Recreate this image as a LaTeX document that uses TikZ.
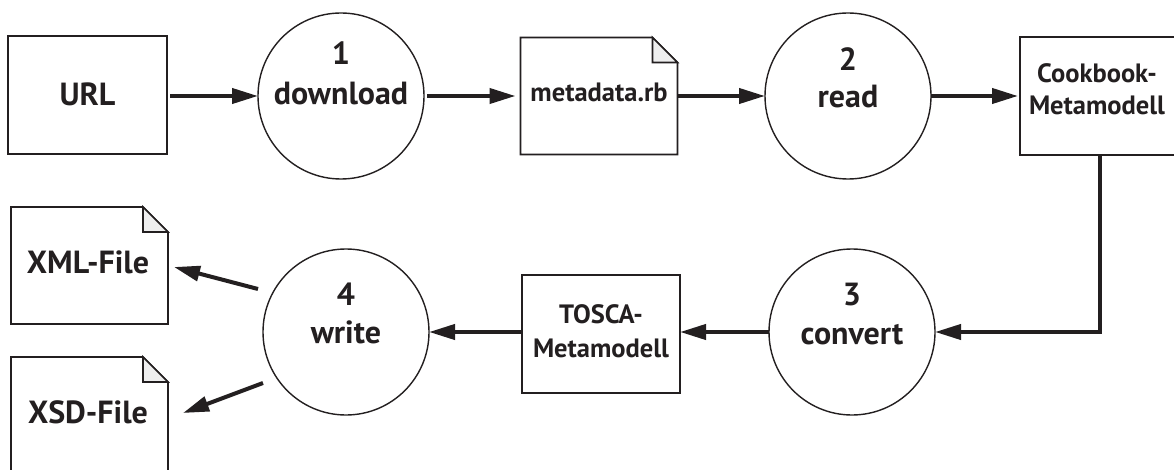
\documentclass[tikz,border=0pt]{standalone}
\usepackage{fontspec}
\setmainfont{PT Sans}
\usetikzlibrary{arrows.meta,calc}
\definecolor{ink}{HTML}{231F20}
\definecolor{foldgray}{HTML}{EEEEEE}
\begin{document}
\begin{tikzpicture}[x=1pt,y=-1pt,
  every node/.style={inner sep=0pt, outer sep=0pt},
  box/.style={draw=ink, line width=1.6pt, rectangle},
  proc/.style={draw=ink, line width=1.4pt, circle, minimum size=166pt},
  doc/.style={rectangle, minimum width=157pt, minimum height=117pt},
  big/.style={font=\bfseries\fontsize{32}{32}\selectfont, text=ink, anchor=base},
  small/.style={font=\bfseries\fontsize{26.5}{26.5}\selectfont, text=ink, anchor=base},
  flow/.style={draw=ink, line width=4pt, line join=miter, -{Triangle[length=26pt,width=15pt]}},
]
\clip (0,0) rectangle (1174,470);
\fill[white] (0,0) rectangle (1174,470);

% top row
\node[box, minimum width=159pt, minimum height=118pt] (url) at (87.5,95) {};
\node[big] (urlt) at (87.5,106) {URL};

\node[proc] (c1) at (341,96) {};
\node[big] (c1n) at (341,65) {1};
\node[big] (c1t) at (341,105) {download};

\node[doc] (meta) at (599,96) {};
\node[small] (metat) at (599,102) {metadata.rb};

\node[proc] (c2) at (848,96) {};
\node[big] (c2n) at (848,71) {2};
\node[big] (c2t) at (848,108) {read};

\node[box, minimum width=160pt, minimum height=118pt] (cook) at (1100,96) {};
\node[small] (cookt1) at (1097,83) {Cookbook-};
\node[small] (cookt2) at (1097,115) {Metamodell};

% bottom row
\node[proc] (c3) at (852,332) {};
\node[big] (c3n) at (852,305) {3};
\node[big] (c3t) at (852,344) {convert};

\node[box, minimum width=158pt, minimum height=118pt] (tosca) at (601,334) {};
\node[small] (toscat1) at (601,323) {TOSCA-};
\node[small] (toscat2) at (601,357) {Metamodell};

\node[proc] (c4) at (346,332) {};
\node[big] (c4n) at (346,305) {4};
\node[big] (c4t) at (346,343) {write};

\node[doc] (xml) at (89.5,265.5) {};
\node[big] (xmlt) at (88,273) {XML-File};

\node[doc] (xsd) at (89.5,415.5) {};
\node[big] (xsdt) at (88,423) {XSD-File};

% document outlines with folded corner
\foreach \d in {meta,xml,xsd}{
  \draw[ink, line width=1.6pt, line join=miter]
    (\d.south west) -- (\d.north west) -- ([xshift=-25pt]\d.north east)
    -- ([yshift=-25pt]\d.north east) -- (\d.south east) -- cycle;
  \draw[ink, line width=1.6pt, fill=foldgray, line join=miter]
    ([xshift=-25pt]\d.north east) -- ([xshift=-25pt,yshift=-25pt]\d.north east)
    -- ([yshift=-25pt]\d.north east) -- cycle;
}

% data flow
\draw[flow, shorten <=3pt] (url.east |- c1.west) -- (c1.west);
\draw[flow, shorten <=3pt, shorten >=5pt] (c1.east) -- (meta.west);
\draw[flow] (meta.east) -- (c2.west);
\draw[flow, shorten >=2pt] (c2.east) -- (cook.west);
\draw[flow] (cook.south) |- (c3.east);
\draw[flow] (c3.west) -- (c3.west -| tosca.east);
\draw[flow] (c4.east -| tosca.west) -- (c4.east);
\draw[flow] ([shift={(-88pt,43pt)}]c4.center) -- ([xshift=6pt,yshift=-1.5pt]xml.east);
\draw[flow] ([shift={(-83pt,-51pt)}]c4.center) -- ([xshift=15pt,yshift=2.5pt]xsd.east);
\end{tikzpicture}
\end{document}
